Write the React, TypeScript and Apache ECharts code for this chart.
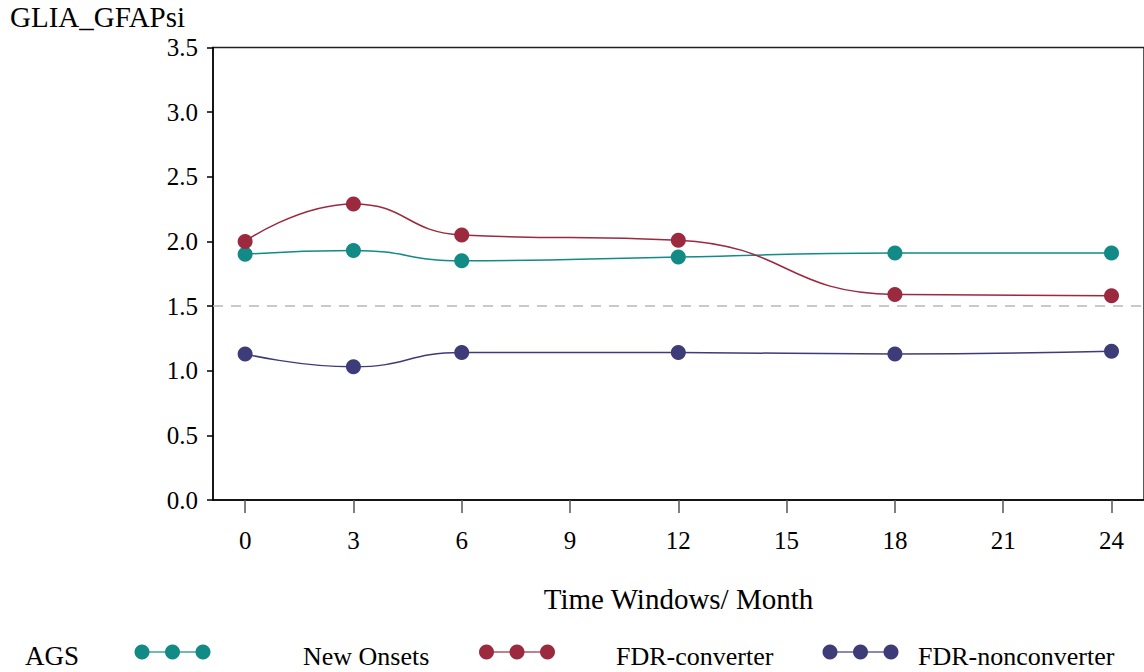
import React, { useEffect, useRef } from "react";
import * as echarts from "echarts";

const months = [0, 3, 6, 12, 18, 24];
const tickValues = [0, 3, 6, 9, 12, 15, 18, 21, 24];
const seriesNames = ["New Onsets", "FDR-converter", "FDR-nonconverter"];
const newOnsets = [1.90, 1.93, 1.85, 1.88, 1.91, 1.91];
const fdrConverter = [2.0, 2.29, 2.05, 2.01, 1.59, 1.58];
const fdrNonconverter = [1.13, 1.03, 1.14, 1.14, 1.13, 1.15];
const colors = ["#128a85", "#9b2a3f", "#3d3c78"];
const refLine = 1.5;

const FONT = "Liberation Serif";

export default function App() {
  const ref = useRef<HTMLDivElement>(null);
  useEffect(() => {
    if (!ref.current) return;
    const chart = echarts.init(ref.current, null, { renderer: "svg" });
    const values = [newOnsets, fdrConverter, fdrNonconverter];
    const series: any[] = values.map((vals, i) => ({
      name: seriesNames[i],
      type: "line",
      smooth: 0.5,
      data: months.map((m, j) => [m, vals[j]]),
      symbol: "circle",
      symbolSize: 15,
      lineStyle: { color: colors[i], width: 1.5 },
      itemStyle: { color: colors[i] },
      z: 3 + i,
      ...(i === 0
        ? {
            markLine: {
              silent: true,
              symbol: "none",
              label: { show: false },
              lineStyle: { type: [10, 8], color: "#b8b8b8", width: 1.5 },
              data: [{ yAxis: refLine }],
            },
          }
        : {}),
    }));

    const legendX = [142, 486.5, 830];
    const legendTextX = [303, 616, 918];
    const legendY = 652;
    const graphic: any[] = [
      {
        type: "text",
        left: 10,
        top: 2,
        style: { text: "GLIA_GFAPsi", font: `29px '${FONT}'`, fill: "#000" },
      },
      {
        type: "text",
        left: 25,
        top: 642,
        style: { text: "AGS", font: `27px '${FONT}'`, fill: "#000" },
      },
    ];
    seriesNames.forEach((name, i) => {
      const x0 = legendX[i];
      graphic.push({
        type: "line",
        shape: { x1: x0, y1: legendY, x2: x0 + 61, y2: legendY },
        style: { stroke: colors[i], lineWidth: 2, opacity: 0.6 },
      });
      [0, 30.5, 61].forEach((dx) =>
        graphic.push({
          type: "circle",
          shape: { cx: x0 + dx, cy: legendY, r: 7.5 },
          style: { fill: colors[i] },
        })
      );
      graphic.push({
        type: "text",
        x: legendTextX[i],
        y: legendY + 4,
        style: {
          text: name,
          font: `26px '${FONT}'`,
          fill: "#000",
          verticalAlign: "middle",
        },
      });
    });

    chart.setOption({
      animation: false,
      backgroundColor: "#fff",
      grid: {
        left: 213,
        top: 47.5,
        right: -3,
        bottom: 172,
        show: true,
        borderColor: "#222",
        borderWidth: 1.5,
      },
      xAxis: {
        type: "value",
        min: -0.89,
        max: 24.9,
        name: "Time Windows/ Month",
        nameLocation: "middle",
        nameGap: 84,
        nameTextStyle: { fontFamily: FONT, fontSize: 29, color: "#000" },
        axisLine: { onZero: false, lineStyle: { color: "#000", width: 1.5 } },
        axisTick: {
          show: true,
          length: 13,
          customValues: tickValues,
          lineStyle: { color: "#555", width: 1.5 },
        },
        axisLabel: {
          customValues: tickValues,
          margin: 28,
          fontFamily: FONT,
          fontSize: 25,
          color: "#000",
        },
        splitLine: { show: false },
      },
      yAxis: {
        type: "value",
        min: 0,
        max: 3.5,
        interval: 0.5,
        axisLine: { show: true, onZero: false, lineStyle: { color: "#000", width: 1.5 } },
        axisTick: { show: true, length: 6, lineStyle: { color: "#000", width: 1.5 } },
        axisLabel: {
          margin: 15,
          fontFamily: FONT,
          fontSize: 25,
          color: "#000",
          formatter: (v: number) => v.toFixed(1),
        },
        splitLine: { show: false },
      },
      series,
      graphic,
    });
    return () => chart.dispose();
  }, []);
  return (
    <div
      ref={ref}
      style={{ position: "fixed", left: 0, top: 0, width: 1144, height: 672 }}
    />
  );
}
